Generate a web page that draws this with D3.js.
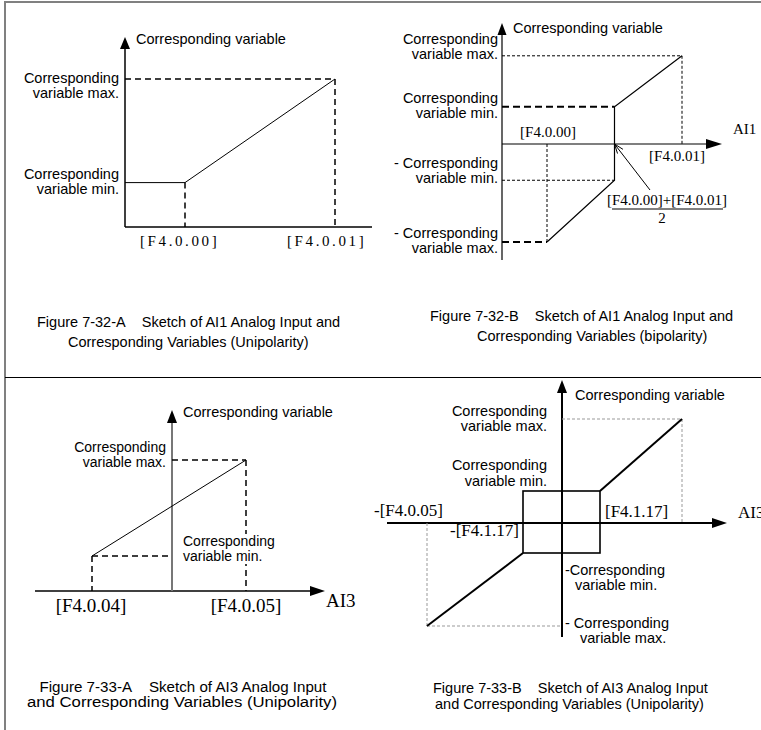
<!DOCTYPE html>
<html><head><meta charset="utf-8">
<script src="https://cdn.jsdelivr.net/npm/d3@7"></script>
<style>
html,body{margin:0;padding:0;background:#fff;}
svg{display:block;}
text{white-space:pre;}
</style></head>
<body>
<script>
// ---------- DATA ----------
// Panel A: AI1 unipolar
const aInput   = [0, 2, 7];      // origin, [F4.0.00], [F4.0.01]
const aOutput  = [3, 3, 10];     // min, min, max corresponding variable
const aTicks   = ["[F4.0.00]", "[F4.0.01]"];
// Panel B: AI1 bipolar
const bInput   = [1, 2.5, 2.5, 4];        // [F4.0.00], midpoint, midpoint, [F4.0.01]
const bOutput  = [-10, -3.7, 3.8, 9];     // -max, -min, min, max
const bTicks   = ["[F4.0.00]", "[F4.0.01]"];
// Panel C: AI3 unipolar
const cInput   = [-4, 3.7];               // [F4.0.04], [F4.0.05]
const cOutput  = [3.5, 13.1];             // min, max
const cTicks   = ["[F4.0.04]", "[F4.0.05]"];
// Panel D: AI3 bipolar with dead zone
const dInput   = [-13.5, -3.9, 3.8, 12];  // -[F4.0.05], -[F4.1.17], [F4.1.17], [F4.0.05]
const dOutput  = [-10.3, -3.0, 3.2, 10.4];// -max, -min, min, max
const dTicks   = ["-[F4.0.05]", "-[F4.1.17]", "[F4.1.17]"];

const captions = [
  ["Figure 7-32-A\u00a0\u00a0\u00a0\u00a0Sketch of AI1 Analog Input and", "Corresponding Variables (Unipolarity)"],
  ["Figure 7-32-B\u00a0\u00a0\u00a0\u00a0Sketch of AI1 Analog Input and", "Corresponding Variables (bipolarity)"],
  ["Figure 7-33-A\u00a0\u00a0\u00a0\u00a0Sketch of AI3 Analog Input", "and Corresponding Variables (Unipolarity)"],
  ["Figure 7-33-B\u00a0\u00a0\u00a0\u00a0Sketch of AI3 Analog Input", "and Corresponding Variables (Unipolarity)"]
];

// ---------- HELPERS ----------
const W = 761, H = 730;
const SANS = "'Liberation Sans', Arial, Helvetica, sans-serif";
const SERIF = "'Liberation Serif', 'Times New Roman', serif";
const svg = d3.select("body").append("svg").attr("width", W).attr("height", H);

function ln(g, x1, y1, x2, y2, o = {}) {
  return g.append("line").attr("x1", x1).attr("y1", y1).attr("x2", x2).attr("y2", y2)
    .attr("stroke", o.c || "#000").attr("stroke-width", o.w || 1)
    .attr("stroke-dasharray", o.d || null).attr("fill", "none");
}
function poly(g, pts, o = {}) {
  return g.append("path").attr("d", d3.line()(pts)).attr("fill", "none")
    .attr("stroke", o.c || "#000").attr("stroke-width", o.w || 1)
    .attr("stroke-dasharray", o.d || null);
}
function arrowUp(g, x, y, w = 9, h = 13, c = "#000") {
  g.append("path").attr("d", `M${x},${y} L${x - w / 2},${y + h} L${x + w / 2},${y + h} Z`).attr("fill", c);
}
function arrowRight(g, x, y, w = 10, h = 15, c = "#000") {
  g.append("path").attr("d", `M${x},${y} L${x - h},${y - w / 2} L${x - h},${y + w / 2} Z`).attr("fill", c);
}
function tx(g, x, y, s, o = {}) {
  const t = g.append("text").attr("x", x).attr("y", y).text(s)
    .attr("font-family", o.f || SANS).attr("font-size", o.s || 14.5)
    .attr("text-anchor", o.a || "start").attr("fill", "#000");
  if (o.ls) t.attr("letter-spacing", o.ls);
  if (o.tl) t.attr("textLength", o.tl).attr("lengthAdjust", "spacingAndGlyphs");
  return t;
}

// ---------- FRAME ----------
ln(svg, 5, 2, W, 2, { c: "#808080", w: 2 });
ln(svg, 5, 1, 5, H, { c: "#808080", w: 2 });
ln(svg, 5, 377.5, W, 377.5, { c: "#000", w: 1 });

// ---------- PANEL A ----------
{
  const g = svg.append("g");
  const x = d3.scaleLinear().domain([0, 7]).range([125, 335]);
  const y = d3.scaleLinear().domain([0, 10]).range([227, 79]);
  const x0 = x(0), y0 = y(0);
  ln(g, x0, y0, 372, y0, { w: 1.5 });
  ln(g, x0, y0, x0, 45, { w: 1.5 });
  arrowUp(g, x0, 37, 10, 12);
  const dash = { w: 1.5, d: "6,4" };
  ln(g, x0, y(aOutput[2]), x(aInput[2]), y(aOutput[2]), dash);
  ln(g, x(aInput[2]), y(aOutput[2]), x(aInput[2]), y0, dash);
  ln(g, x(aInput[1]), y(aOutput[1]), x(aInput[1]), y0, dash);
  poly(g, aInput.map((v, i) => [x(v), y(aOutput[i])]), { w: 1 });
  tx(g, 136, 44, "Corresponding variable");
  tx(g, 119, y(aOutput[2]) + 4, "Corresponding", { a: "end" });
  tx(g, 119, y(aOutput[2]) + 19, "variable max.", { a: "end" });
  tx(g, 119, y(aOutput[0]) - 4, "Corresponding", { a: "end" });
  tx(g, 119, y(aOutput[0]) + 11, "variable min.", { a: "end" });
  tx(g, x(aInput[1]) - 45, 246, aTicks[0], { f: SERIF, s: 15, ls: 2.6 });
  tx(g, x(aInput[2]) - 48, 246, aTicks[1], { f: SERIF, s: 15, ls: 2.6 });
  tx(g, 37, 327, captions[0][0]);
  tx(g, 68, 347, captions[0][1]);
}

// ---------- PANEL B ----------
{
  const g = svg.append("g");
  const x = d3.scaleLinear().domain([0, 4]).range([502, 682]);
  const y = d3.scaleLinear().domain([0, 9]).range([144, 55.8]);
  const x0 = x(0), y0 = y(0);
  ln(g, x0, y0, 712, y0, { w: 1.2 });
  arrowRight(g, 722, y0, 10, 16);
  ln(g, x0, 34, x0, 260, { w: 1.2 });
  arrowUp(g, x0, 23, 9, 12);
  const dot = { w: 1, d: "3,2" };
  const thick = { w: 2, d: "7,4" };
  ln(g, x0, y(bOutput[3]), x(bInput[3]), y(bOutput[3]), dot);
  ln(g, x(bInput[3]), y(bOutput[3]), x(bInput[3]), y0, dot);
  ln(g, x0, y(bOutput[2]), x(bInput[2]), y(bOutput[2]), thick);
  ln(g, x0, y(bOutput[1]), x(bInput[1]), y(bOutput[1]), dot);
  ln(g, x0, y(bOutput[0]), x(bInput[0]), y(bOutput[0]), thick);
  ln(g, x(bInput[0]), y0, x(bInput[0]), y(bOutput[0]), dot);
  poly(g, bInput.map((v, i) => [x(v), y(bOutput[i])]), { w: 1.2 });
  tx(g, 513, 33, "Corresponding variable");
  tx(g, 498, 44, "Corresponding", { a: "end" });
  tx(g, 498, 59, "variable max.", { a: "end" });
  tx(g, 498, 103, "Corresponding", { a: "end" });
  tx(g, 498, 118, "variable min.", { a: "end" });
  tx(g, 498, 168, "- Corresponding", { a: "end" });
  tx(g, 498, 183, "variable min.", { a: "end" });
  tx(g, 498, 238, "- Corresponding", { a: "end" });
  tx(g, 498, 253, "variable max.", { a: "end" });
  tx(g, x(bInput[0]) + 1, 137, bTicks[0], { f: SERIF, s: 15, a: "middle" });
  tx(g, x(bInput[3]) - 5, 161, bTicks[1], { f: SERIF, s: 15, a: "middle" });
  tx(g, 733, 134, "AI1", { f: SERIF, s: 15 });
  const mx = x(bInput[1]), my = y0;
  ln(g, 650, 190, mx, my, { w: 1 });
  const ang = Math.atan2(190 - my, 650 - mx);
  [0.35, -0.35].forEach(da => {
    ln(g, mx, my, mx + 10 * Math.cos(ang + da), my + 10 * Math.sin(ang + da), { w: 1 });
  });
  tx(g, 667, 205, bTicks[0] + "+" + bTicks[1], { f: SERIF, s: 15, a: "middle" });
  ln(g, 612, 209, 723, 209, { w: 1 });
  tx(g, 662, 223, "2", { f: SERIF, s: 15, a: "middle" });
  tx(g, 430, 321, captions[1][0]);
  tx(g, 477, 341, captions[1][1]);
}

// ---------- PANEL C ----------
{
  const g = svg.append("g");
  const x = d3.scaleLinear().domain([0, 3.7]).range([172, 246]);
  const y = d3.scaleLinear().domain([0, 13.1]).range([591, 460]);
  const x0 = x(0), y0 = y(0);
  ln(g, 35, y0, 312, y0, { w: 1.3 });
  arrowRight(g, 325, y0, 10, 15);
  ln(g, x0, y0, x0, 420, { c: "#777", w: 2 });
  arrowUp(g, x0, 410, 10, 13);
  const dash = { w: 1.5, d: "6,4" };
  ln(g, x0, y(cOutput[1]), x(cInput[1]), y(cOutput[1]), dash);
  ln(g, x(cInput[1]), y(cOutput[1]), x(cInput[1]), y0, dash);
  ln(g, x(cInput[0]), y(cOutput[0]), x0, y(cOutput[0]), dash);
  ln(g, x(cInput[0]), y(cOutput[0]), x(cInput[0]), y0, dash);
  poly(g, cInput.map((v, i) => [x(v), y(cOutput[i])]), { w: 1 });
  g.append("rect").attr("x", 181).attr("y", 534).attr("width", 96).attr("height", 30).attr("fill", "#fff");
  tx(g, 183, 417, "Corresponding variable");
  tx(g, 166, 452, "Corresponding", { a: "end", s: 14 });
  tx(g, 166, 467, "variable max.", { a: "end", s: 14 });
  tx(g, 183, 546, "Corresponding", { s: 14 });
  tx(g, 183, 561, "variable min.", { s: 14 });
  tx(g, x(cInput[0]) - 1, 612, cTicks[0], { f: SERIF, s: 19, a: "middle" });
  tx(g, x(cInput[1]), 612, cTicks[1], { f: SERIF, s: 19, a: "middle" });
  tx(g, 326, 607, "AI3", { f: SERIF, s: 19 });
  tx(g, 183, 692, captions[2][0], { s: 14, a: "middle", tl: 287 });
  tx(g, 182, 707, captions[2][1], { s: 14, a: "middle", tl: 310 });
}

// ---------- PANEL D ----------
{
  const g = svg.append("g");
  const x = d3.scaleLinear().domain([0, 10]).range([562, 662]);
  const y = d3.scaleLinear().domain([0, 10]).range([523, 423]);
  const x0 = x(0), y0 = y(0);
  ln(g, 387, y0, 714, y0, { w: 2 });
  arrowRight(g, 727, y0, 10, 15);
  ln(g, x0, 392, x0, 637, { w: 2 });
  arrowUp(g, x0, 380, 10, 13);
  const gray = { c: "#999", w: 1, d: "3,2" };
  ln(g, x0, y(dOutput[3]), x(dInput[3]), y(dOutput[3]), gray);
  ln(g, x(dInput[3]), y(dOutput[3]), x(dInput[3]), y0, gray);
  ln(g, x(dInput[0]), y0, x(dInput[0]), y(dOutput[0]), gray);
  ln(g, x(dInput[0]), y(dOutput[0]), x0, y(dOutput[0]), gray);
  g.append("rect").attr("x", x(dInput[1])).attr("y", y(dOutput[2]))
    .attr("width", x(dInput[2]) - x(dInput[1])).attr("height", y(dOutput[1]) - y(dOutput[2]))
    .attr("fill", "none").attr("stroke", "#000").attr("stroke-width", 1.6);
  poly(g, [[x(dInput[2]), y(dOutput[2])], [x(dInput[3]), y(dOutput[3])]], { w: 2 });
  poly(g, [[x(dInput[0]), y(dOutput[0])], [x(dInput[1]), y(dOutput[1])]], { w: 2 });
  tx(g, 575, 400, "Corresponding variable");
  tx(g, 547, 416, "Corresponding", { a: "end" });
  tx(g, 547, 431, "variable max.", { a: "end" });
  tx(g, 547, 470, "Corresponding", { a: "end" });
  tx(g, 547, 486, "variable min.", { a: "end" });
  tx(g, 443, 516, dTicks[0], { f: SERIF, s: 17, a: "end" });
  tx(g, 519, 536, dTicks[1], { f: SERIF, s: 17, a: "end" });
  tx(g, 605, 517, dTicks[2], { f: SERIF, s: 17 });
  tx(g, 738, 518, "AI3", { f: SERIF, s: 17 });
  tx(g, 565, 575, "-Corresponding");
  tx(g, 575, 590, "variable min.");
  tx(g, 565, 628, "- Corresponding");
  tx(g, 580, 643, "variable max.");
  tx(g, 433, 693, captions[3][0]);
  tx(g, 435, 709, captions[3][1]);
}
</script>
</body></html>
